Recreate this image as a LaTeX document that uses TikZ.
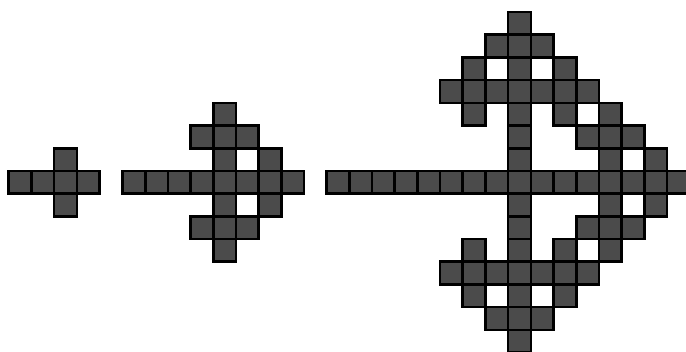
\documentclass[tikz,border=0pt]{standalone}
\definecolor{cellgray}{HTML}{4B4B4B}
\tikzset{cellsq/.style={fill=cellgray,draw=black,line width=2.6pt}}
\newcommand\mycell[3]{\draw[cellsq] ({#1+(#2)*22.7-11.35},{169.7+(#3)*22.7-11.35}) rectangle +(22.7,22.7);}
\begin{document}
\begin{tikzpicture}[x=1pt,y=1pt]
\useasboundingbox (0,0) rectangle (686,352);
\clip (0,0) rectangle (686,352);
% figure 1
\foreach \cc/\rr in {-2/0,-1/0,0/0,1/0,0/1,0/-1} {\mycell{65.5}{\cc}{\rr}}
% figure 2
\foreach \cc in {-4,...,3} {\mycell{224.7}{\cc}{0}}
\foreach \rr in {-3,...,3} {\mycell{224.7}{0}{\rr}}
\foreach \cc/\rr in {-1/2,1/2,2/1} {\mycell{224.7}{\cc}{\rr}\mycell{224.7}{\cc}{-\rr}}
% figure 3
\foreach \cc in {-8,...,7} {\mycell{519.5}{\cc}{0}}
\foreach \rr in {-7,...,7} {\mycell{519.5}{0}{\rr}}
\foreach \cc/\rr in {-1/6,1/6,-2/5,2/5,-3/4,-2/4,-1/4,1/4,2/4,3/4,-2/3,2/3,4/3,3/2,4/2,5/2,4/1,6/1}
  {\mycell{519.5}{\cc}{\rr}\mycell{519.5}{\cc}{-\rr}}
\end{tikzpicture}
\end{document}
